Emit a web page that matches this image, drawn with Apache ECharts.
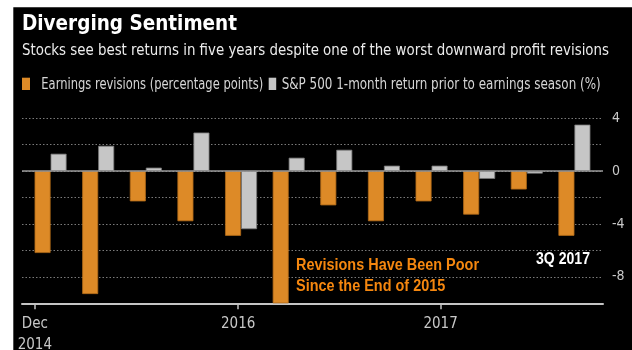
<!DOCTYPE html>
<html>
<head>
<meta charset="utf-8">
<script src="https://cdn.jsdelivr.net/npm/echarts@6/dist/echarts.min.js"></script>
<style>
html,body{margin:0;padding:0;background:#fff;}
#c{width:632px;height:350px;}
</style>
</head>
<body>
<div id="c"></div>
<script>
// ---- data ----
const quarters = ['4Q 2014','1Q 2015','2Q 2015','3Q 2015','4Q 2015','1Q 2016','2Q 2016','3Q 2016','4Q 2016','1Q 2017','2Q 2017','3Q 2017'];
const revisions = [-6.2, -9.3, -2.3, -3.8, -4.9, -10.0, -2.6, -3.8, -2.3, -3.3, -1.4, -4.9];
const returns1m = [1.3, 1.9, 0.25, 2.9, -4.4, 1.0, 1.6, 0.4, 0.4, -0.6, -0.2, 3.5];
const xTickPositions = [-0.33, 3.94, 8.19];
const xTickLabels = ['Dec\n2014', '2016', '2017'];
const yTicks = [-8, -4, 0, 4];

// ---- helpers ----
const mctx = document.createElement('canvas').getContext('2d');
function measure(str, size, weight, family) {
  mctx.font = weight + ' ' + size + 'px ' + family;
  return mctx.measureText(str).width;
}
function txt(str, x, y, size, weight, color, family, targetW, sx) {
  let scaleX = 1;
  if (sx) scaleX = sx;
  else if (targetW) scaleX = targetW / measure(str, size, weight, family);
  return {
    type: 'text', x: x, y: y, scaleX: scaleX, z: 100, silent: true,
    style: { text: str, fill: color, fontSize: size, fontWeight: weight, fontFamily: family,
             align: 'left', verticalAlign: 'middle' }
  };
}
const SANS = "'DejaVu Sans Condensed', 'DejaVu Sans', sans-serif";
const ARIAL = "'Liberation Sans', Arial, sans-serif";
const NARROW = "'Liberation Sans Narrow', 'DejaVu Sans Condensed', sans-serif";
const ORANGE = '#dd8a27';
const GRAY = '#c6c6c6';

const annScale = 183 / measure('Revisions Have Been Poor', 16.5, 'bold', ARIAL);

const chart = echarts.init(document.getElementById('c'), null, {renderer: 'canvas'});
chart.setOption({
  backgroundColor: '#000',
  animation: false,
  grid: { left: 22, right: 29, top: 118, bottom: 46.7, containLabel: false, outerBoundsMode: 'none' },
  xAxis: {
    type: 'value', min: -0.6, max: 11.6,
    splitLine: { show: false },
    axisLine: { show: true, onZero: false, lineStyle: { color: '#c4c4c4', width: 2 } },
    axisTick: { show: true, customValues: xTickPositions, length: 6, lineStyle: { color: '#c4c4c4', width: 1.5 } },
    axisLabel: {
      customValues: xTickPositions,
      color: '#c8c8c8', fontSize: 15, lineHeight: 20.5, margin: 11, fontFamily: NARROW,
      formatter: function (v) {
        let best = 0, d = 1e9;
        xTickPositions.forEach(function (p, i) { if (Math.abs(p - v) < d) { d = Math.abs(p - v); best = i; } });
        return xTickLabels[best];
      }
    }
  },
  yAxis: {
    type: 'value', position: 'right', min: -10, max: 4, interval: 2,
    axisLine: { show: false }, axisTick: { show: false },
    splitLine: { show: true, lineStyle: { color: '#7a7a7a', type: [1.5, 2], width: 1 } },
    axisLabel: {
      color: '#c8c8c8', fontSize: 14, margin: 9, fontFamily: NARROW,
      formatter: function (v) { return yTicks.indexOf(v) >= 0 ? String(v) : ''; }
    }
  },
  series: [
    {
      name: 'Earnings revisions (percentage points)', type: 'bar',
      barWidth: 16, barGap: '0%',
      itemStyle: { color: ORANGE, borderColor: '#b06a18', borderWidth: 0.8 },
      data: revisions.map(function (v, i) { return [i, v]; }),
      markLine: {
        silent: true, symbol: 'none', label: { show: false },
        lineStyle: { color: '#9a9a9a', type: 'solid', width: 1.5 },
        data: [{ yAxis: 0 }]
      }
    },
    {
      name: 'S&P 500 1-month return prior to earnings season (%)', type: 'bar',
      barWidth: 16, barGap: '0%',
      itemStyle: { color: GRAY, borderColor: '#7a7a7a', borderWidth: 0.8 },
      data: returns1m.map(function (v, i) { return [i, v]; })
    }
  ],
  graphic: [
    { type: 'rect', shape: { x: 0, y: 0, width: 632, height: 7.3 }, style: { fill: '#fff' }, z: 90, silent: true },
    { type: 'rect', shape: { x: 0, y: 0, width: 13.3, height: 350 }, style: { fill: '#fff' }, z: 90, silent: true },
    txt('Diverging Sentiment', 22, 25, 20.5, 'bold', '#ffffff', SANS, 215),
    txt('Stocks see best returns in five years despite one of the worst downward profit revisions', 22, 51, 16.5, 'normal', '#ececec', SANS, 587),
    { type: 'rect', shape: { x: 22, y: 77.7, width: 8, height: 12.3 }, style: { fill: ORANGE }, z: 100, silent: true },
    txt('Earnings revisions (percentage points)', 41.3, 85, 15, 'normal', '#d6d6d6', SANS, 222),
    { type: 'rect', shape: { x: 268.7, y: 77.7, width: 7.5, height: 12.3 }, style: { fill: GRAY }, z: 100, silent: true },
    txt('S&P 500 1-month return prior to earnings season (%)', 281.7, 85, 15, 'normal', '#d6d6d6', SANS, 319),
    txt('Revisions Have Been Poor', 296, 265, 16.5, 'bold', '#f5870f', ARIAL, null, annScale),
    txt('Since the End of 2015', 296, 286, 16.5, 'bold', '#f5870f', ARIAL, null, annScale),
    txt('3Q 2017', 536, 259.5, 16, 'bold', '#ffffff', ARIAL, 54)
  ]
});
</script>
</body>
</html>
